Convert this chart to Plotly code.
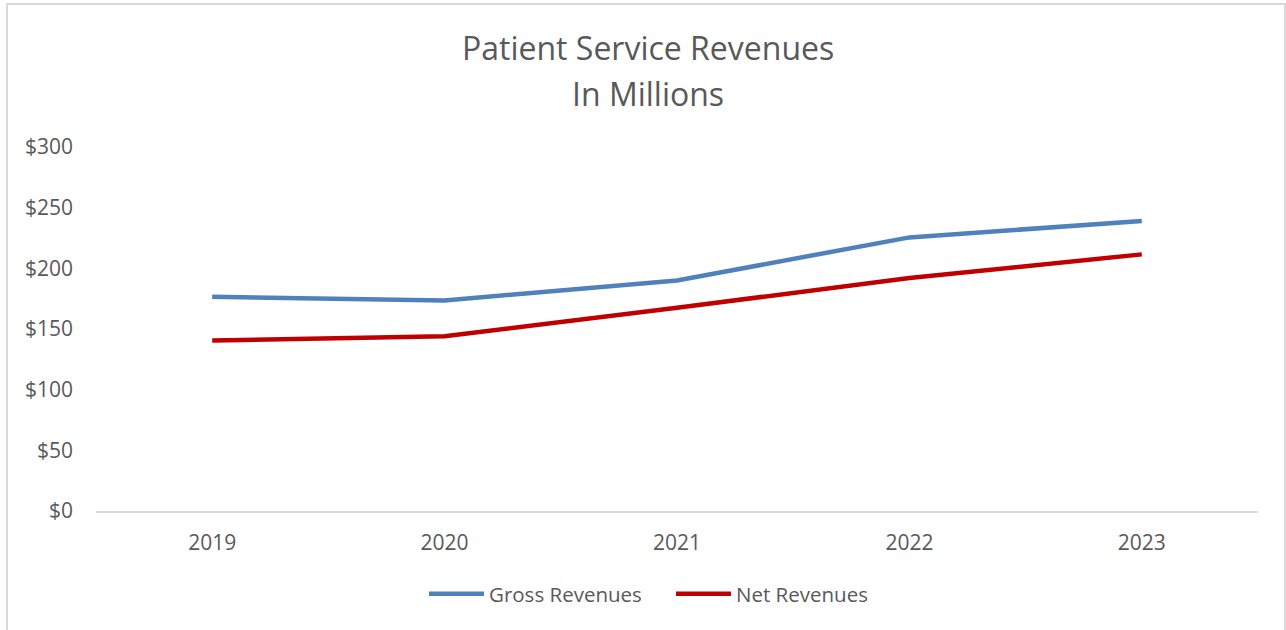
import plotly.graph_objects as go

# Patient service revenues, in millions of dollars
years = ["2019", "2020", "2021", "2022", "2023"]
gross_revenues = [176.5, 173.5, 190, 225.5, 239]
net_revenues = [140.5, 144, 167.5, 192, 211.5]

y_ticks = [0, 50, 100, 150, 200, 250, 300]
y_tick_labels = ["$0", "$50", "$100", "$150", "$200", "$250", "$300"]

W, H = 1286, 630
M_L, M_R, M_T, M_B = 96, 28, 147, 119
PLOT_W = W - M_L - M_R
PLOT_H = H - M_T - M_B

TEXT = "#595959"
FONT = "Open Sans"


def px_x(px):
    return (px - M_L) / PLOT_W


def px_y(py):
    return (H - M_B - py) / PLOT_H


fig = go.Figure()
fig.add_trace(go.Scatter(
    x=years, y=gross_revenues, name="Gross Revenues", mode="lines",
    line=dict(color="#4F81BD", width=4.5),
))
fig.add_trace(go.Scatter(
    x=years, y=net_revenues, name="Net Revenues", mode="lines",
    line=dict(color="#C00000", width=4.5),
))

fig.update_layout(
    width=W, height=H,
    margin=dict(l=M_L, r=M_R, t=M_T, b=M_B),
    paper_bgcolor="white", plot_bgcolor="white",
    font=dict(family=FONT, color=TEXT, size=21),
    showlegend=True,
    legend=dict(
        orientation="h", x=px_x(424), xanchor="left",
        y=px_y(594), yanchor="middle",
        font=dict(size=20.5, color=TEXT),
        itemwidth=55,
        entrywidth=177, entrywidthmode="pixels",
    ),
    annotations=[
        dict(text="Patient Service Revenues", x=px_x(648), y=px_y(47),
             xref="paper", yref="paper", xanchor="center", yanchor="middle",
             showarrow=False, font=dict(size=32, color=TEXT, family=FONT)),
        dict(text="In Millions", x=px_x(648), y=px_y(93),
             xref="paper", yref="paper", xanchor="center", yanchor="middle",
             showarrow=False, font=dict(size=32, color=TEXT, family=FONT)),
    ],
    shapes=[
        dict(type="rect", xref="paper", yref="paper",
             x0=px_x(7), x1=px_x(1285), y0=px_y(640), y1=px_y(4),
             line=dict(color="#d9d9d9", width=2), fillcolor="rgba(0,0,0,0)",
             layer="below"),
    ],
)

fig.update_xaxes(
    type="category", range=[-0.5, 4.5],
    showline=True, linecolor="#d9d9d9", linewidth=1.5,
    showgrid=False, zeroline=False, ticks="",
    ticklabelstandoff=12,
    tickfont=dict(size=21, color=TEXT),
)
fig.update_yaxes(
    range=[0, 300], tickvals=y_ticks, ticktext=y_tick_labels,
    showline=False, showgrid=False, zeroline=False, ticks="",
    ticklabelstandoff=22,
    tickfont=dict(size=21, color=TEXT),
)

fig.write_html("out.html")
